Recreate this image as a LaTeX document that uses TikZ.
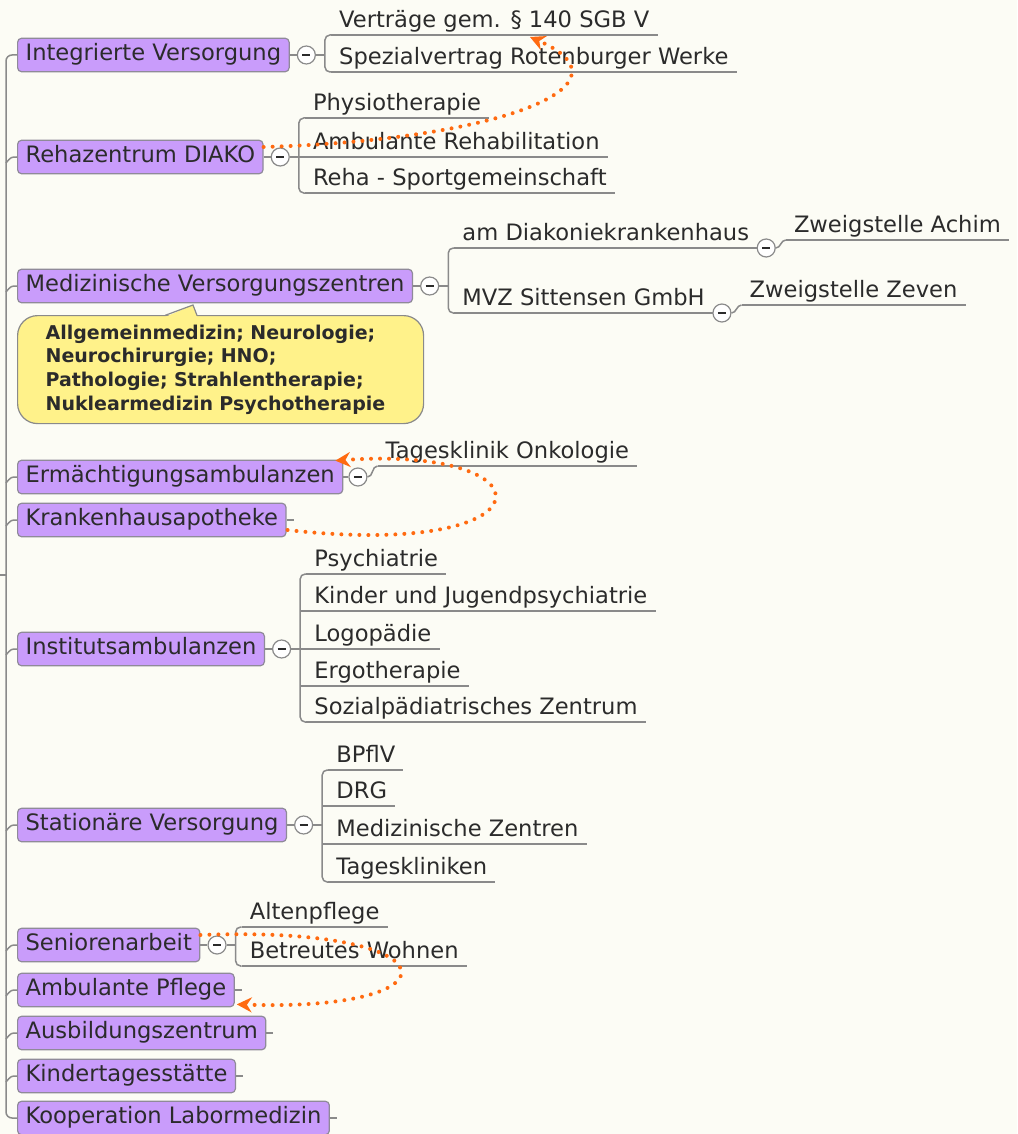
\documentclass[tikz,border=0pt]{standalone}
\usepackage{fontspec}
\setmainfont{DejaVu Sans}
\usetikzlibrary{arrows.meta,positioning,calc}
\definecolor{paper}{HTML}{FCFCF5}
\definecolor{topicfill}{HTML}{C99CFB}
\definecolor{topicline}{HTML}{8F8A99}
\definecolor{ink}{HTML}{2B2B2B}
\definecolor{linegray}{HTML}{8A8A8A}
\definecolor{notefill}{HTML}{FFF28A}
\definecolor{linkorange}{HTML}{FF6A10}
\newcommand{\topicfont}{\fontsize{22.6}{27}\selectfont}
\newcommand{\notefont}{\fontsize{19}{23.7}\selectfont\bfseries}
\tikzset{
  topic/.style={draw=topicline, fill=topicfill, line width=1.2pt, rounded corners=4pt, anchor=west,
    inner xsep=8pt, inner ysep=6pt, text height=16.5pt, text depth=5pt, font=\topicfont, text=ink},
  leaf/.style={anchor=south west, inner xsep=8pt, inner ysep=2pt, text height=16.5pt, text depth=5pt,
    font=\topicfont, text=ink},
  note/.style={draw=linegray, fill=notefill, line width=1.2pt, rounded corners=20pt, anchor=north west,
    text width=350pt, inner xsep=28pt, minimum height=108pt, align=left, font=\notefont, text=ink},
  branch/.style={draw=linegray, line width=1.5pt},
  toggle/.style={circle, draw=linegray, fill=white, line width=1.2pt, minimum size=18pt, inner sep=0pt,
    path picture={\draw[ink, line width=1.8pt] ([xshift=-4pt]path picture bounding box.center)
      -- ([xshift=4pt]path picture bounding box.center);}},
  link/.style={draw=linkorange, line width=4pt, line cap=round, dash pattern=on 0pt off 9pt,
    -{Stealth[length=15pt,width=15pt]}},
}
% leaf text with underline, placed right of a bracket coordinate
\newcommand{\leaf}[4]{%
  \node[leaf, xshift=6pt] (#3) at (#1 |- 0,#2) {#4};
  \draw[branch] (#3.south west) -- (#3.south east);}

\begin{document}
\begin{tikzpicture}[x=1pt,y=-1pt]
  \useasboundingbox (0,0) rectangle (1017,1134);
  \fill[paper] (0,0) rectangle (1017,1134);
  % main topics
  \node[topic] (int)  at (17,55)   {Integrierte Versorgung};
  \node[topic] (reha) at (17,157)  {Rehazentrum DIAKO};
  \node[topic] (mvz)  at (17,286)  {Medizinische Versorgungszentren};
  \node[note]  (mvzN) at (17,315)  {Allgemeinmedizin; Neurologie;\\Neurochirurgie; HNO;\\Pathologie; Strahlentherapie;\\Nuklearmedizin Psychotherapie};
  \fill[notefill] (165,317) -- (193,305) -- (197,317) -- cycle;
  \draw[linegray, line width=1.2pt] (165,315.4) -- (193,305) -- (197,315.4);
  \node[topic] (erm)  at (17,477)  {Ermächtigungsambulanzen};
  \node[topic] (apo)  at (17,520)  {Krankenhausapotheke};
  \node[topic] (inst) at (17,649)  {Institutsambulanzen};
  \node[topic] (stat) at (17,825)  {Stationäre Versorgung};
  \node[topic] (sen)  at (17,945)  {Seniorenarbeit};
  \node[topic] (amb)  at (17,990)  {Ambulante Pflege};
  \node[topic] (aus)  at (17,1033) {Ausbildungszentrum};
  \node[topic] (kita) at (17,1076) {Kindertagesstätte};
  \node[topic] (koop) at (17,1118) {Kooperation Labormedizin};

  % trunk
  \draw[branch, rounded corners=6] (int.west) -| (6,575) |- (koop.west);
  \draw[branch] (0,575) -- (6,575);
  \foreach \n in {reha,mvz,erm,apo,inst,stat,sen,amb,aus,kita}
    \draw[branch] (\n.west) .. controls +(-6,0) .. ($(\n.west)+(-11,6)$);
  \foreach \n in {apo,amb,aus,kita,koop}
    \draw[branch] (\n.east) -- ++(7,0);

  % toggles and brackets
  \foreach \n in {int,reha,mvz,inst,stat,sen} {
    \node[toggle, right=7pt of \n] (\n-t) {};
    \coordinate (\n-b) at ($(\n-t.east)+(9,0)$);
    \draw[branch] (\n.east) -- (\n-t.west) (\n-t.east) -- (\n-b);
  }
  \node[toggle, right=5pt of erm] (erm-t) {};
  \coordinate (erm-b) at ($(erm-t.east)+(4,0)$);
  \draw[branch] (erm.east) -- (erm-t.west);

  % Integrierte Versorgung
  \leaf{int-b}{35}{vert}{Verträge gem. § 140 SGB V}
  \leaf{int-b}{72}{spez}{Spezialvertrag Rotenburger Werke}
  \draw[branch, rounded corners=5] (vert.south west) -| (int-b) |- (spez.south west);

  % Rehazentrum
  \leaf{reha-b}{118}{physio}{Physiotherapie}
  \leaf{reha-b}{157}{ambreha}{Ambulante Rehabilitation}
  \leaf{reha-b}{193}{sport}{Reha - Sportgemeinschaft}
  \draw[branch, rounded corners=5] (physio.south west) -| (reha-b) |- (sport.south west);
  \draw[branch] (reha-b |- ambreha.south west) -- (ambreha.south west);

  % MVZ
  \leaf{mvz-b}{248}{diak}{am Diakoniekrankenhaus}
  \leaf{mvz-b}{313}{sitt}{MVZ Sittensen GmbH}
  \draw[branch, rounded corners=5] (diak.south west) -| (mvz-b) |- (sitt.south west);
  \node[toggle] (diak-t) at ($(diak.south east)+(9,0)$) {};
  \node[toggle] (sitt-t) at ($(sitt.south east)+(9,0)$) {};
  \coordinate (diak-b) at ($(diak-t.east)+(4,0)$);
  \coordinate (sitt-b) at ($(sitt-t.east)+(4,0)$);
  \leaf{diak-b}{240}{achim}{Zweigstelle Achim}
  \leaf{sitt-b}{305}{zeven}{Zweigstelle Zeven}
  \draw[branch] (diak-t.east) to[out=0,in=180] (achim.south west);
  \draw[branch] (sitt-t.east) to[out=0,in=180] (zeven.south west);

  % Ermaechtigungsambulanzen
  \leaf{erm-b}{466}{onko}{Tagesklinik Onkologie}
  \draw[branch] (erm-t.east) to[out=0,in=180] (onko.south west);

  % Institutsambulanzen
  \leaf{inst-b}{574}{psy}{Psychiatrie}
  \leaf{inst-b}{611}{kjp}{Kinder und Jugendpsychiatrie}
  \leaf{inst-b}{649}{logo}{Logopädie}
  \leaf{inst-b}{686}{ergo}{Ergotherapie}
  \leaf{inst-b}{722}{spz}{Sozialpädiatrisches Zentrum}
  \draw[branch, rounded corners=5] (psy.south west) -| (inst-b) |- (spz.south west);
  \foreach \m in {kjp,logo,ergo}
    \draw[branch] (inst-b |- \m.south west) -- (\m.south west);

  % Stationaere Versorgung
  \leaf{stat-b}{770}{bpflv}{BPflV}
  \leaf{stat-b}{806}{drg}{DRG}
  \leaf{stat-b}{844}{medz}{Medizinische Zentren}
  \leaf{stat-b}{882}{tk}{Tageskliniken}
  \draw[branch, rounded corners=5] (bpflv.south west) -| (stat-b) |- (tk.south west);
  \foreach \m in {drg,medz}
    \draw[branch] (stat-b |- \m.south west) -- (\m.south west);

  % Seniorenarbeit
  \leaf{sen-b}{927}{alten}{Altenpflege}
  \leaf{sen-b}{966}{betr}{Betreutes Wohnen}
  \draw[branch, rounded corners=5] (alten.south west) -| (sen-b) |- (betr.south west);

  % dotted relations
  \coordinate (reha-out) at ($(reha.east)+(0,-10)$);
  \coordinate (vert-in)  at ($(vert.south west)+(199,2)$);
  \coordinate (apo-out)  at ($(apo.east)+(1,10)$);
  \coordinate (erm-in)   at ($(erm.north east)+(-8,1)$);
  \coordinate (sen-out)  at ($(sen.east)+(0,-10)$);
  \coordinate (amb-in)   at ($(amb.south east)+(2,-3)$);
  \draw[link] (reha-out) .. controls (500,140) and (640,85) .. (vert-in);
  \draw[link] (apo-out) .. controls (555,560) and (555,445) .. (erm-in);
  \draw[link] (sen-out) .. controls (455,925) and (465,1012) .. (amb-in);
\end{tikzpicture}
\end{document}
